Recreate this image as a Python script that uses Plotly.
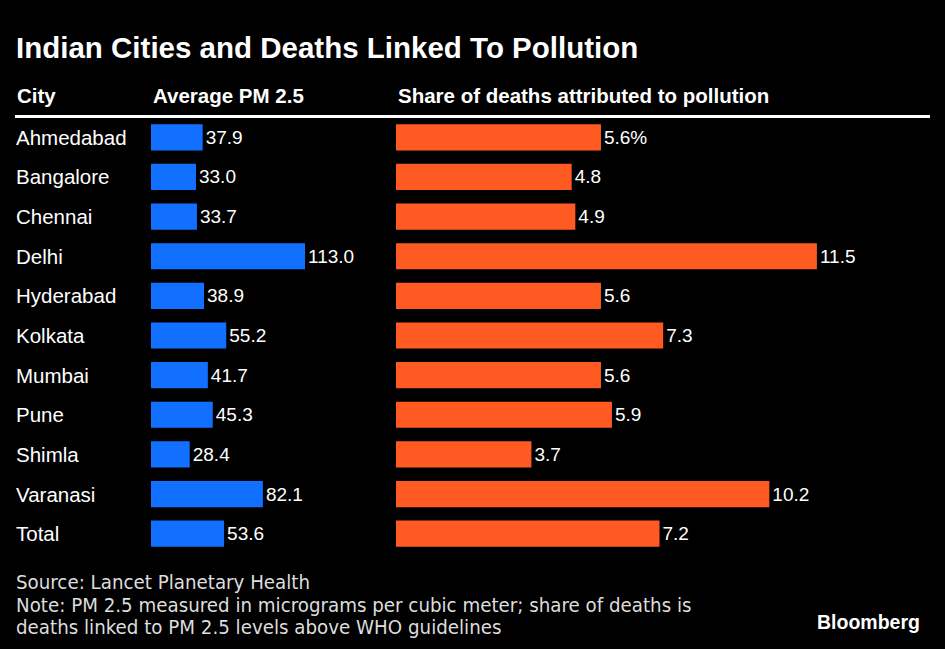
import plotly.graph_objects as go

cities = ["Ahmedabad", "Bangalore", "Chennai", "Delhi", "Hyderabad", "Kolkata",
          "Mumbai", "Pune", "Shimla", "Varanasi", "Total"]
pm25 = [37.9, 33.0, 33.7, 113.0, 38.9, 55.2, 41.7, 45.3, 28.4, 82.1, 53.6]
share = [5.6, 4.8, 4.9, 11.5, 5.6, 7.3, 5.6, 5.9, 3.7, 10.2, 7.2]
pm_labels = [f"{v:.1f}" for v in pm25]
share_labels = [f"{v:.1f}" for v in share]
share_labels[0] = share_labels[0] + "%"

W, H = 945, 649
BLUE = "#1170FF"
ORANGE = "#FF5A22"
FONT = "Liberation Sans"

def px(x):
    return x / W

def py(y):
    return 1 - y / H

y_top, y_bot = 117.5, 553.5

fig = go.Figure()
fig.add_trace(go.Bar(
    y=cities, x=pm25, orientation="h", marker=dict(color=BLUE, line=dict(width=0)),
    width=0.66, text=pm_labels, textposition="outside", cliponaxis=False,
    textfont=dict(color="white", size=19, family=FONT),
    xaxis="x", yaxis="y", hoverinfo="skip"))
fig.add_trace(go.Bar(
    y=cities, x=share, orientation="h", marker=dict(color=ORANGE, line=dict(width=0)),
    width=0.66, text=share_labels, textposition="outside", cliponaxis=False,
    textfont=dict(color="white", size=19, family=FONT),
    xaxis="x2", yaxis="y2", hoverinfo="skip"))

blue_w = 390 - 151
orange_w = 930 - 396
axis_common = dict(showgrid=False, zeroline=False, showticklabels=False, ticks="", showline=False)
fig.update_layout(
    width=W, height=H, margin=dict(l=0, r=0, t=0, b=0),
    paper_bgcolor="black", plot_bgcolor="black", showlegend=False,
    font=dict(family=FONT, color="white"),
    xaxis=dict(domain=[px(151), px(390)], range=[0, blue_w / 1.363], **axis_common),
    xaxis2=dict(domain=[px(396), px(930)], range=[0, orange_w / 36.6], anchor="y2", **axis_common),
    yaxis=dict(domain=[py(y_bot), py(y_top)], autorange="reversed", anchor="x", **axis_common),
    yaxis2=dict(domain=[py(y_bot), py(y_top)], autorange="reversed", anchor="x2", **axis_common),
    uniformtext=dict(mode=False),
)

ann = []
ann.append(dict(text="<b>Indian Cities and Deaths Linked To Pollution</b>", x=px(14), y=py(47),
                xref="paper", yref="paper", xanchor="left", yanchor="middle", showarrow=False,
                font=dict(size=29.5, family=FONT, color="white")))
for txt, x in [("City", 15), ("Average PM 2.5", 151), ("Share of deaths attributed to pollution", 396)]:
    ann.append(dict(text=f"<b>{txt}</b>", x=px(x), y=py(95), xref="paper", yref="paper",
                    xanchor="left", yanchor="middle", showarrow=False,
                    font=dict(size=20.5, family=FONT, color="white")))
for c in cities:
    ann.append(dict(text=c, x=px(14), y=c, xref="paper", yref="y", xanchor="left", yanchor="middle",
                    showarrow=False, font=dict(size=20.5, family=FONT, color="white")))
foot = ["Source: Lancet Planetary Health",
        "Note: PM 2.5 measured in micrograms per cubic meter; share of deaths is",
        "deaths linked to PM 2.5 levels above WHO guidelines"]
for i, t in enumerate(foot):
    ann.append(dict(text=t, x=px(14), y=py(582 + 22.5 * i), xref="paper", yref="paper",
                    xanchor="left", yanchor="middle", showarrow=False,
                    font=dict(size=20.3, family="DejaVu Sans Condensed, " + FONT, color="#dddddd")))
ann.append(dict(text="<b>Bloomberg</b>", x=px(922), y=py(622), xref="paper", yref="paper",
                xanchor="right", yanchor="middle", showarrow=False,
                font=dict(size=19.5, family=FONT, color="white")))
fig.update_layout(annotations=ann)

fig.add_shape(type="line", xref="paper", yref="paper", x0=px(15), x1=px(930), y0=py(116.5), y1=py(116.5),
              line=dict(color="white", width=3))

fig.write_html("out.html", config={"displayModeBar": False},
               post_script="document.body.style.margin='0';document.body.style.background='black';")
